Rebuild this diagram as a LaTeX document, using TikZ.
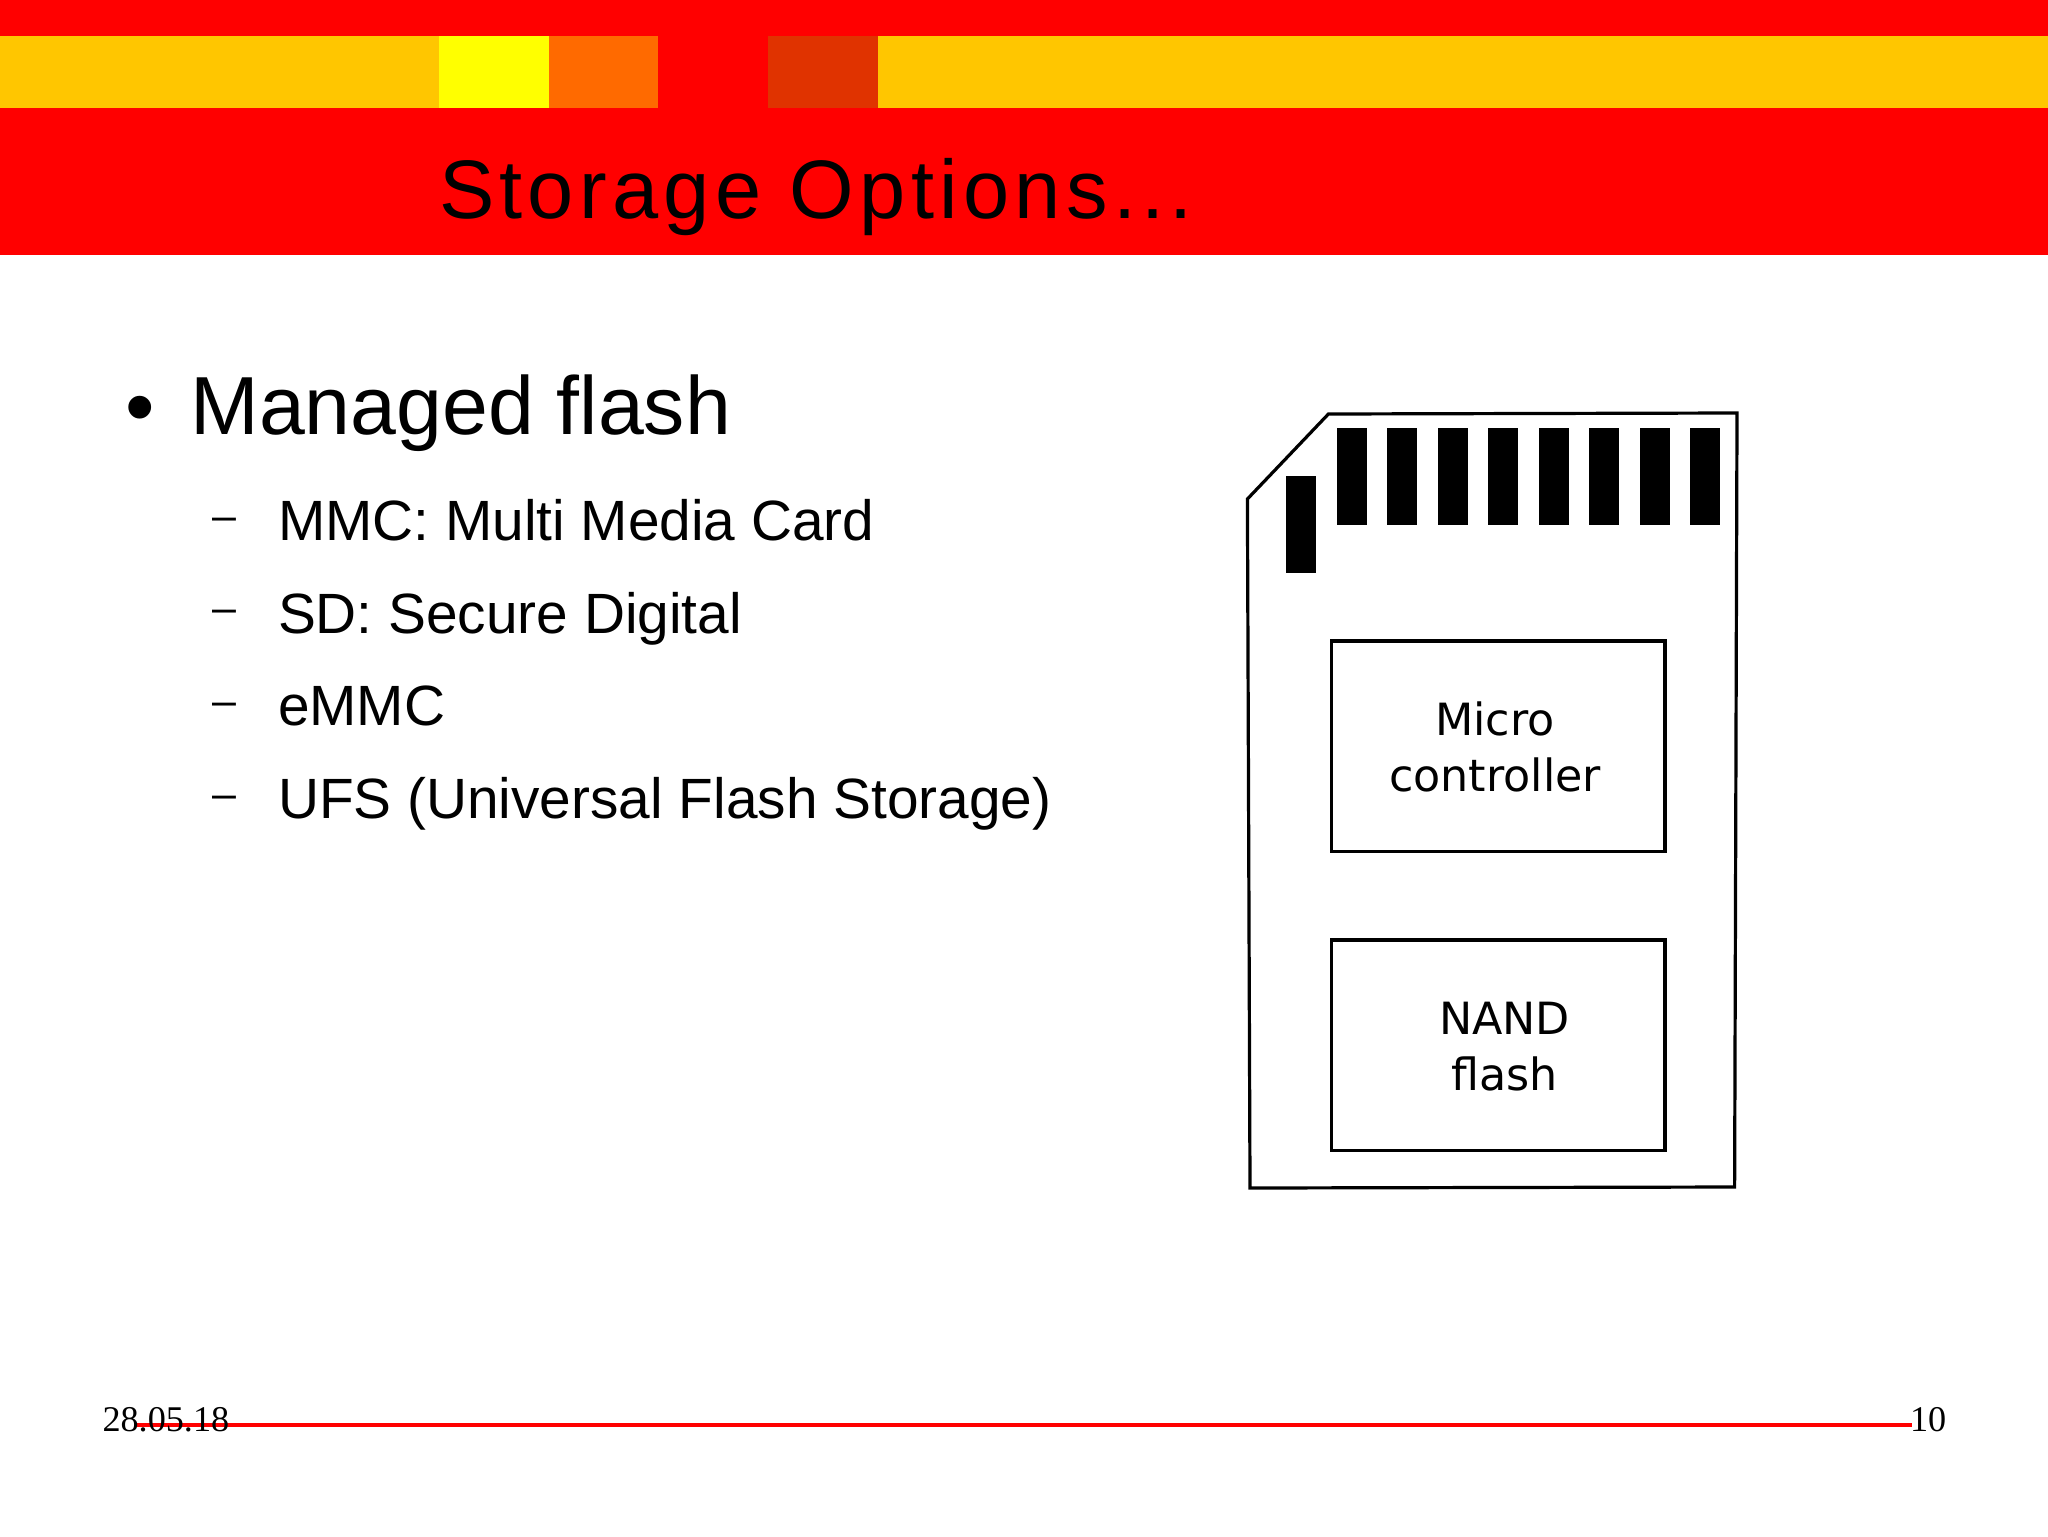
\documentclass[tikz,border=0pt]{standalone}
\usepackage{fontspec}
\setmainfont{Liberation Sans}
\newfontfamily\titlefont[LetterSpace=6.4]{Liberation Sans}
\newfontfamily\cardfont{DejaVu Sans}
\newfontfamily\footfont{Liberation Serif}
\definecolor{amberband}{HTML}{FFC600}
\definecolor{orangeband}{HTML}{FF6A00}
\definecolor{darkband}{HTML}{E03300}
\definecolor{yellowband}{HTML}{FFFF00}
\tikzset{
  txt/.style={anchor=base west,inner sep=0pt,outer sep=0pt,text=black},
  titletxt/.style={txt,font=\titlefont\fontsize{41.5}{48}\selectfont},
  headtxt/.style={txt,font=\fontsize{41.2}{48}\selectfont},
  subtxt/.style={txt,font=\fontsize{28.4}{34}\selectfont},
  dashtxt/.style={txt,font=\fontsize{21.5}{26}\selectfont},
  cardtxt/.style={anchor=base,inner sep=0pt,outer sep=0pt,text=black,font=\cardfont\fontsize{22.2}{28}\selectfont},
  foottxt/.style={txt,font=\footfont\fontsize{18.1}{22}\selectfont},
  contact/.style={fill=black,draw=none},
  chipbox/.style={draw=black,line width=1.6pt,fill=white},
}
\begin{document}
\begin{tikzpicture}[x=0.5pt,y=-0.5pt]
\useasboundingbox (0,0) rectangle (2048,1536);
\fill[white] (0,0) rectangle (2048,1536);
% header
\fill[red] (0,0) rectangle (2048,254.5);
\fill[amberband] (0,36) rectangle (439,108);
\fill[yellowband] (439,36) rectangle (548.5,108);
\fill[orangeband] (548.5,36) rectangle (658,108);
\fill[darkband] (768,36) rectangle (878,108);
\fill[amberband] (878,36) rectangle (2048,108);
\node[titletxt] (title) at (439,218) {Storage Options...};
% left text
\node[anchor=base,inner sep=0pt,font=\fontsize{42}{48}\selectfont] (bullet) at (140,435) {•};
\node[headtxt] (head) at (190.5,434) {Managed flash};
\node[dashtxt] (d1) at (212,530) {–};
\node[subtxt] (s1) at (278,540) {MMC: Multi Media Card};
\node[dashtxt] (d2) at (212,622.5) {–};
\node[subtxt] (s2) at (278,633) {SD: Secure Digital};
\node[dashtxt] (d3) at (212,715) {–};
\node[subtxt] (s3) at (278,725) {eMMC};
\node[dashtxt] (d4) at (212,808) {–};
\node[subtxt] (s4) at (278,818) {UFS (Universal Flash Storage)};
% card
\draw[black,line width=1.6pt,line join=miter] (1328.4,414) -- (1737,413) -- (1734.6,1187) -- (1250,1188) -- (1247.4,499) -- cycle;
\foreach \i in {0,...,7} {
  \fill[contact] ({1336.5+50.5*\i},428) rectangle ({1366.5+50.5*\i},525);
}
\fill[contact] (1285.8,475.5) rectangle (1315.8,572.5);
\draw[chipbox] (1331.3,641) rectangle (1665,851.5);
\draw[chipbox] (1331.3,940) rectangle (1665,1150.5);
\node[cardtxt] (m1) at (1495,735) {Micro};
\node[cardtxt] (m2) at (1495,791) {controller};
\node[cardtxt] (n1) at (1504.5,1034) {NAND};
\node[cardtxt] (n2) at (1504.5,1090) {flash};
% footer
\draw[red,line width=2pt] (137,1425) -- (1911.7,1425);
\node[foottxt] (date) at (102.5,1431.7) {28.05.18};
\node[foottxt] (page) at (1910,1431.7) {10};
\end{tikzpicture}
\end{document}
